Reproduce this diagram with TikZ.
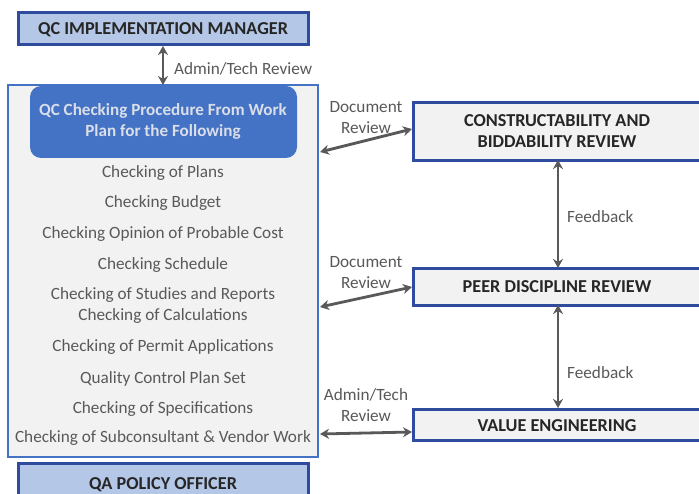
\documentclass[tikz,border=0pt]{standalone}
\usepackage{fontspec}
\setmainfont{Carlito}
\usetikzlibrary{arrows.meta}
\definecolor{dkblue}{HTML}{2F4B9E}
\definecolor{ltblue}{HTML}{B4C7E7}
\definecolor{midblue}{HTML}{4472C4}
\definecolor{panel}{HTML}{F2F2F2}
\definecolor{txtgray}{HTML}{595959}
\definecolor{dktxt}{HTML}{262626}
\definecolor{hdrtxt}{HTML}{D9DEE8}
\tikzset{
  rolebox/.style={draw=dkblue, line width=3pt, fill=ltblue, inner sep=0pt, font=\fontsize{18.2}{21}\selectfont\bfseries, text=dktxt},
  revbox/.style={draw=dkblue, line width=3pt, fill=panel, inner sep=0pt, font=\fontsize{18.2}{21}\selectfont\bfseries, text=dktxt, align=center},
  item/.style={font=\fontsize{17.2}{21}\selectfont, text=txtgray, inner sep=0pt},
  lbl/.style={font=\fontsize{17.2}{21}\selectfont, text=txtgray, inner sep=0pt, align=center},
  conn/.style={draw=txtgray, line width=2.8pt, {Stealth[length=9pt,width=10pt]}-{Stealth[length=9pt,width=10pt]}, shorten <=0pt, shorten >=0pt}
}
\begin{document}
\begin{tikzpicture}[x=1pt,y=-1pt]
\path[use as bounding box, clip] (0,0) rectangle (699,494);
\fill[white] (0,0) rectangle (699,494);
% top manager box
\draw[rolebox] (18,13) rectangle (308,45);
\node[rolebox, draw=none, fill=none] (mgr) at (163,30) {QC IMPLEMENTATION MANAGER};
\coordinate (mgrb) at (163,46);
% container
\draw[draw=midblue, line width=1.6pt, fill=panel] (8,85) rectangle (318,457);
\coordinate (cont) at (163,85);
% header
\fill[midblue, rounded corners=11pt] (30,86) rectangle (297,158);
\node[font=\fontsize{17.1}{21}\selectfont\bfseries, text=hdrtxt, align=center, inner sep=0pt] (hdr) at (163,121.5) {QC Checking Procedure From Work\\Plan for the Following};
% list items
\node[item] (i1) at (163,173.5) {Checking of Plans};
\node[item] (i2) at (163,203.5) {Checking Budget};
\node[item] (i3) at (163,234.5) {Checking Opinion of Probable Cost};
\node[item] (i4) at (163,265.5) {Checking Schedule};
\node[item] (i5) at (163,295.5) {Checking of Studies and Reports};
\node[item] (i6) at (163,316.5) {Checking of Calculations};
\node[item] (i7) at (163,347.5) {Checking of Permit Applications};
\node[item] (i8) at (163,378.5) {Quality Control Plan Set};
\node[item] (i9) at (163,409.5) {Checking of Specifications};
\node[item] (i10) at (163,438.5) {Checking of Subconsultant \& Vendor Work};
% QA box
\draw[rolebox] (18,463) rectangle (308,505);
\node[rolebox, draw=none, fill=none] (qa) at (163,485) {QA POLICY OFFICER};
% right boxes
\draw[revbox] (413,103) rectangle (712,161);
\node[revbox, draw=none, fill=none] (cb) at (557,131) {CONSTRUCTABILITY AND\\BIDDABILITY REVIEW};
\draw[revbox] (413,269) rectangle (712,306);
\node[revbox, draw=none, fill=none] (pd) at (557,287) {PEER DISCIPLINE REVIEW};
\draw[revbox] (413,409) rectangle (712,440);
\node[revbox, draw=none, fill=none] (ve) at (557,426) {VALUE ENGINEERING};
% coordinates for connectors
\coordinate (cbL) at (412,129);
\coordinate (cbB) at (558,160);
\coordinate (pdT) at (558,268);
\coordinate (pdL) at (412,287);
\coordinate (pdB) at (558,305);
\coordinate (veT) at (558,408);
\coordinate (veL) at (412,432);
\coordinate (c1) at (320,152);
\coordinate (c2) at (320,307);
\coordinate (c3) at (320,434);
% connectors
\draw[conn] (mgrb) -- (cont);
\node[lbl, anchor=west] (l0) at (174,68.5) {Admin/Tech Review};
\draw[conn] (c1) -- (cbL);
\node[lbl] (l1) at (366,117.5) {Document\\Review};
\draw[conn] (c2) -- (pdL);
\node[lbl] (l2) at (366,272.5) {Document\\Review};
\draw[conn] (c3) -- (veL);
\node[lbl] (l3) at (366,405.5) {Admin/Tech\\Review};
\draw[conn] (cbB) -- (pdT);
\node[lbl, anchor=west] (f1) at (567,216.5) {Feedback};
\draw[conn] (pdB) -- (veT);
\node[lbl, anchor=west] (f2) at (567,372.5) {Feedback};
\end{tikzpicture}
\end{document}
